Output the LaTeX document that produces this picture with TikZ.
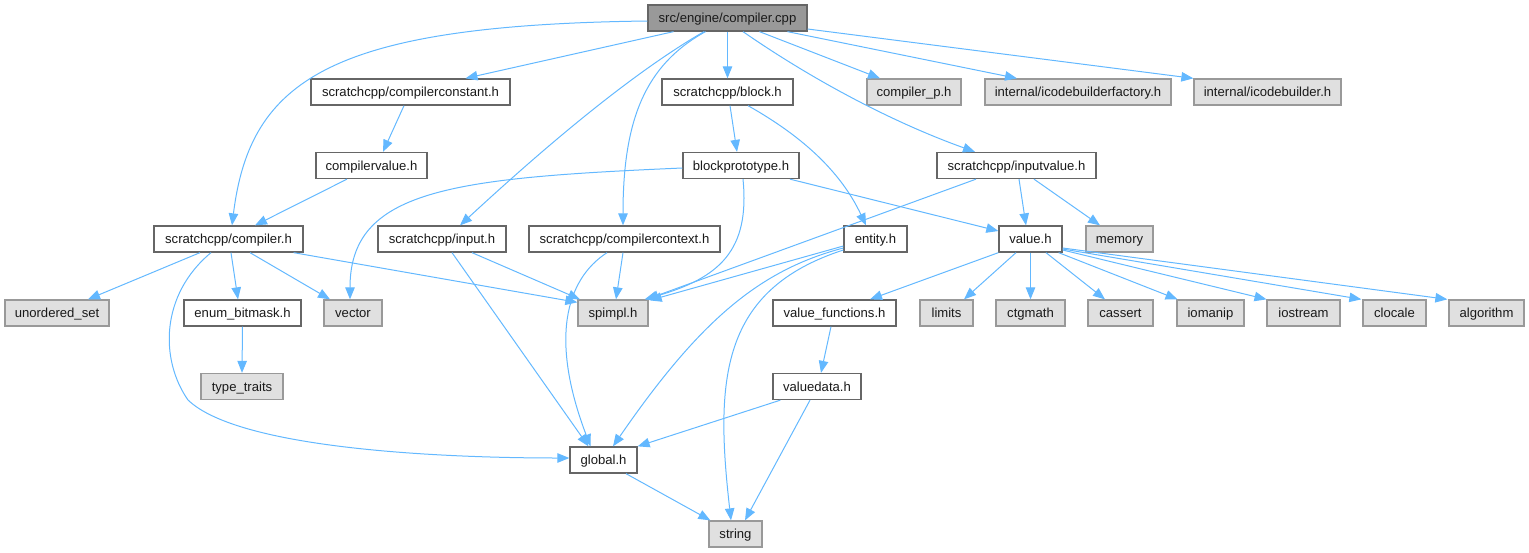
\documentclass[tikz,border=0pt]{standalone}
\usepackage{fontspec}
\setmainfont{Liberation Sans}
\usetikzlibrary{arrows.meta,calc}
\definecolor{edgeblue}{HTML}{63B8FF}
\definecolor{boxdark}{HTML}{666666}
\definecolor{boxlight}{HTML}{999999}
\definecolor{boxfill}{HTML}{E0E0E0}
\definecolor{rootfill}{HTML}{999999}
\definecolor{txt}{HTML}{1A1A1A}
\begin{document}
\begin{tikzpicture}[x=1pt,y=-1pt,
  base/.style={rectangle,minimum height=26pt,inner sep=0pt,line width=1.3pt,text=txt,
    text height=10pt,text depth=1pt,
    font=\fontsize{13.1}{15}\selectfont},
  wbox/.style={base,draw=boxdark,fill=white},
  gbox/.style={base,draw=boxlight,fill=boxfill},
  rootbox/.style={base,draw=boxdark,fill=rootfill},
  edge/.style={draw=edgeblue,line width=1pt,-{Triangle[length=12pt,width=9.5pt]}}]
\useasboundingbox (0,0) rectangle (1529,552);
% row 0
\node[rootbox,minimum width=159pt] (cpp) at (727.5,18) {src/engine/compiler.cpp};
% row 1
\node[wbox,minimum width=199pt] (cconst) at (410.5,92) {scratchcpp/compilerconstant.h};
\node[wbox,minimum width=131pt] (block) at (727.5,92) {scratchcpp/block.h};
\node[gbox,minimum width=94pt] (cp) at (914,92) {compiler\_p.h};
\node[gbox,minimum width=186pt] (icbf) at (1078,92) {internal/icodebuilderfactory.h};
\node[gbox,minimum width=147pt] (icb) at (1267.5,92) {internal/icodebuilder.h};
% row 2
\node[wbox,minimum width=111pt] (cvalue) at (371.5,165.5) {compilervalue.h};
\node[wbox,minimum width=116pt] (bproto) at (741,165.5) {blockprototype.h};
\node[wbox,minimum width=159pt] (inputvalue) at (1016.5,165.5) {scratchcpp/inputvalue.h};
% row 3
\node[wbox,minimum width=149pt] (compilerh) at (228.5,239) {scratchcpp/compiler.h};
\node[wbox,minimum width=128pt] (inputh) at (442,239) {scratchcpp/input.h};
\node[wbox,minimum width=191pt] (ccontext) at (624.5,239) {scratchcpp/compilercontext.h};
\node[wbox,minimum width=63pt] (entity) at (875.5,239) {entity.h};
\node[wbox,minimum width=63pt] (valueh) at (1030.5,239) {value.h};
\node[gbox,minimum width=67pt] (memory) at (1119.5,239) {memory};
% row 4
\node[gbox,minimum width=104pt] (uset) at (57,313) {unordered\_set};
\node[wbox,minimum width=117pt] (enum) at (242.5,313) {enum\_bitmask.h};
\node[gbox,minimum width=58pt] (vector) at (353,313) {vector};
\node[gbox,minimum width=70pt] (spimpl) at (613,313) {spimpl.h};
\node[wbox,minimum width=123pt] (vfunc) at (834.5,313) {value\_functions.h};
\node[gbox,minimum width=53pt] (limits) at (946.5,313) {limits};
\node[gbox,minimum width=69pt] (ctgmath) at (1030.5,313) {ctgmath};
\node[gbox,minimum width=65pt] (cassert) at (1120.5,313) {cassert};
\node[gbox,minimum width=67pt] (iomanip) at (1210.5,313) {iomanip};
\node[gbox,minimum width=73pt] (iostream) at (1303.5,313) {iostream};
\node[gbox,minimum width=63pt] (clocale) at (1394.5,313) {clocale};
\node[gbox,minimum width=75pt] (algorithm) at (1486.5,313) {algorithm};
% row 5
\node[gbox,minimum width=82pt] (typetraits) at (242,386.5) {type\_traits};
\node[wbox,minimum width=88pt] (valuedata) at (817,386.5) {valuedata.h};
% row 6
\node[wbox,minimum width=67pt] (global) at (603.5,460) {global.h};
% row 7
\node[gbox,minimum width=53pt] (string) at (735.5,534) {string};

% edges from compiler.cpp
\draw[edge] ($(cpp.west)+(0,3)$) .. controls (330,25) and (250,80) .. ($(compilerh.north)+(3.5,0)$);
\draw[edge] ($(cpp.south)+(-54,0)$) -- ($(cconst.north)+(55,0)$);
\draw[edge] ($(cpp.south)+(-23.5,0)$) .. controls (620,80) and (520,170) .. ($(inputh.north)+(18,0)$);
\draw[edge] ($(cpp.south)+(-22,0)$) .. controls (645,65) and (623,120) .. ($(ccontext.north)+(-1.5,0)$);
\draw[edge] (cpp.south) -- (block.north);
\draw[edge] ($(cpp.south)+(32,0)$) -- ($(cp.north)+(-34,0)$);
\draw[edge] ($(cpp.south)+(60,0)$) -- ($(icbf.north)+(-61,0)$);
\draw[edge] ($(cpp.east)+(0,11)$) -- (icb.north west);
\draw[edge] ($(cpp.south)+(15.5,0)$) .. controls (820,85) and (900,125) .. ($(inputvalue.north)+(-41.5,0)$);
% second level
\draw[edge] ($(cconst.south)+(-6.5,0)$) -- ($(cvalue.north)+(11.5,0)$);
\draw[edge] ($(cvalue.south)+(-24.5,0)$) -- ($(compilerh.north)+(26.5,0)$);
\draw[edge] ($(block.south)+(2.5,0)$) -- ($(bproto.north)+(-4,0)$);
\draw[edge] ($(block.south)+(20.5,0)$) .. controls (800,135) and (840,170) .. ($(entity.north)+(-9.5,0)$);
\draw[edge] ($(bproto.west)+(0,2.5)$) .. controls (450,178) and (350,190) .. ($(vector.north)+(-3,0)$);
\draw[edge] ($(bproto.south)+(2,0)$) .. controls (750,250) and (720,278) .. ($(spimpl.north east)+(-4,0)$);
\draw[edge] ($(bproto.south)+(49,0)$) -- ($(valueh.west)+(0,-8)$);
\draw[edge] ($(inputvalue.south)+(-40.5,0)$) -- ($(spimpl.north east)+(-2,0)$);
\draw[edge] ($(inputvalue.south)+(2.5,0)$) -- ($(valueh.north)+(-4.5,0)$);
\draw[edge] ($(inputvalue.south)+(17.5,0)$) -- ($(memory.north)+(-19.5,0)$);
% compiler.h
\draw[edge] ($(compilerh.south)+(-28.5,0)$) -- ($(uset.north)+(31,0)$);
\draw[edge] ($(compilerh.south)+(-17.5,0)$) .. controls (160,295) and (160,360) .. (188,400) .. controls (240,450) and (450,458) .. ($(global.west)+(0,-2)$);
\draw[edge] ($(compilerh.south)+(2.5,0)$) -- ($(enum.north)+(-4.5,0)$);
\draw[edge] ($(compilerh.south)+(21.5,0)$) -- ($(vector.north)+(-23,0)$);
\draw[edge] ($(compilerh.south east)+(-10,0)$) -- ($(spimpl.north west)+(0,3)$);
\draw[edge] (enum.south) -- (typetraits.north);
% input.h, compilercontext.h
\draw[edge] ($(inputh.south)+(30,0)$) -- ($(spimpl.north)+(-33,0)$);
\draw[edge] ($(inputh.south)+(10,0)$) -- ($(global.north)+(-15,0)$);
\draw[edge] ($(ccontext.south)+(-1.5,0)$) -- ($(spimpl.north)+(3,0)$);
\draw[edge] ($(ccontext.south)+(-17.5,0)$) .. controls (565,280) and (550,340) .. ($(global.north)+(-13,0)$);
% entity.h
\draw[edge] ($(entity.west)+(0,7)$) -- ($(spimpl.north east)+(1,1)$);
\draw[edge] ($(entity.west)+(0,9)$) .. controls (760,270) and (700,320) .. ($(global.north)+(9.5,0)$);
\draw[edge] ($(entity.west)+(0,11)$) .. controls (720,290) and (715,380) .. ($(string.north)+(-4.5,0)$);
% value.h
\draw[edge] (valueh.south west) -- ($(vfunc.north)+(35.5,0)$);
\draw[edge] ($(valueh.south)+(-14.5,0)$) -- ($(limits.north)+(17.5,0)$);
\draw[edge] (valueh.south) -- (ctgmath.north);
\draw[edge] ($(valueh.south)+(15.5,0)$) -- ($(cassert.north)+(-15.5,0)$);
\draw[edge] ($(valueh.south east)+(-4,0)$) -- ($(iomanip.north)+(-33,0)$);
\draw[edge] ($(valueh.east)+(0,11)$) -- ($(iostream.north)+(-37,0)$);
\draw[edge] ($(valueh.east)+(0,10)$) -- ($(clocale.north west)+(-1,0)$);
\draw[edge] ($(valueh.east)+(0,9)$) -- ($(algorithm.north west)+(-1,0)$);
% lower
\draw[edge] ($(vfunc.south)+(-3.5,0)$) -- ($(valuedata.north)+(4,0)$);
\draw[edge] ($(valuedata.south west)+(8,0)$) -- (global.north east);
\draw[edge] ($(valuedata.south)+(-7,0)$) -- ($(string.north)+(9.5,0)$);
\draw[edge] ($(global.south)+(22.5,0)$) -- ($(string.north west)+(2,0)$);
\end{tikzpicture}
\end{document}
